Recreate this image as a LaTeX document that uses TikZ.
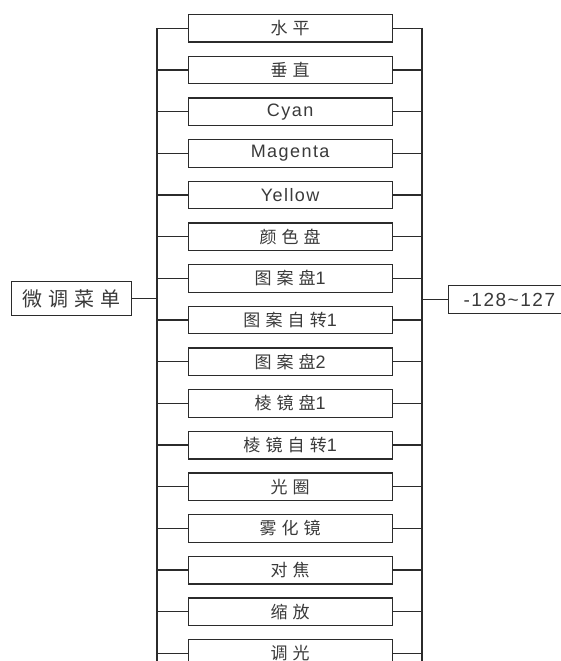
\documentclass[tikz,border=0pt]{standalone}
\usepackage{fontspec}
\setmainfont[LetterSpace=8]{Liberation Sans}
\newfontfamily\cjk[LetterSpace=30]{Noto Sans CJK SC}
\definecolor{ink}{HTML}{2B2B2B}
\definecolor{txt}{HTML}{3A3A3A}
\begin{document}
\begin{tikzpicture}[x=1pt,y=-1pt,
  item/.style={draw=ink,line width=1.3pt,minimum width=204pt,minimum height=27.5pt,
    inner sep=0pt,text=txt,font=\fontsize{18}{20}\selectfont,anchor=north west},
  bigbox/.style={draw=ink,line width=1.3pt,inner sep=0pt,text=txt,anchor=north west},
  wire/.style={draw=ink,line width=1.3pt}]
\useasboundingbox (0,0) rectangle (561,661);
\clip (0,0) rectangle (561,661);
\fill[white] (0,0) rectangle (561,661);
\foreach \i/\t in {1/{\cjk\fontsize{17}{19}\selectfont 水平},2/{\cjk\fontsize{17}{19}\selectfont 垂直},3/Cyan,4/Magenta,5/Yellow,6/{\cjk\fontsize{17}{19}\selectfont 颜色盘},
  7/{{\cjk\fontsize{17}{19}\selectfont 图案盘}1},8/{{\cjk\fontsize{17}{19}\selectfont 图案自转}1},9/{{\cjk\fontsize{17}{19}\selectfont 图案盘}2},10/{{\cjk\fontsize{17}{19}\selectfont 棱镜盘}1},
  11/{{\cjk\fontsize{17}{19}\selectfont 棱镜自转}1},12/{\cjk\fontsize{17}{19}\selectfont 光圈},13/{\cjk\fontsize{17}{19}\selectfont 雾化镜},14/{\cjk\fontsize{17}{19}\selectfont 对焦},15/{\cjk\fontsize{17}{19}\selectfont 缩放},16/{\cjk\fontsize{17}{19}\selectfont 调光}}{
  \node[item] (b\i) at (187.5,{14+41.67*(\i-1)}) {\t};
}
\node[bigbox,minimum width=120pt,minimum height=34pt,font=\fontsize{20}{22}\selectfont] (main) at (11,281) {\cjk 微调菜单};
\node[bigbox,minimum width=140pt,minimum height=28pt,font=\fontsize{19}{21}\selectfont,align=left,text width=125pt,inner xsep=15pt] (range) at (448,285) {-128\textasciitilde 127};
\coordinate (lt) at (157,28);
\coordinate (lb) at (157,670);
\coordinate (rt) at (422,28);
\coordinate (rb) at (422,670);
\draw[wire] (lt) -- (lb);
\draw[wire] (rt) -- (rb);
\foreach \i in {1,...,16}{
  \draw[wire] (b\i.west) -- (b\i.west -| lt);
  \draw[wire] (b\i.east) -- (b\i.east -| rt);
}
\draw[wire] (main.east) -- (main.east -| lt);
\draw[wire] (range.west) -- (range.west -| rt);
\end{tikzpicture}
\end{document}
